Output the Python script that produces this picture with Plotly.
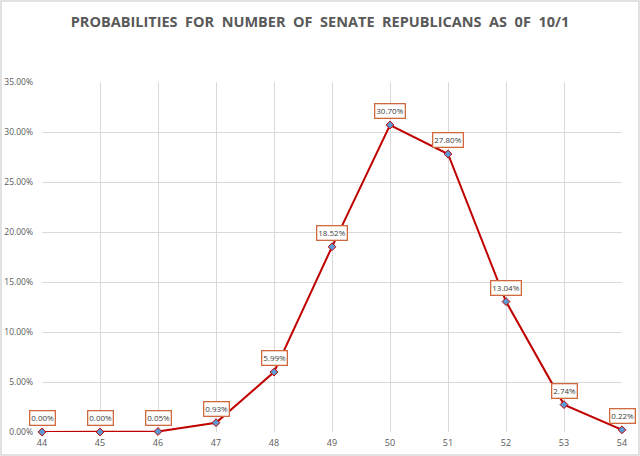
import plotly.graph_objects as go

seats = [44, 45, 46, 47, 48, 49, 50, 51, 52, 53, 54]
probs = [0.0000, 0.0000, 0.0005, 0.0093, 0.0599, 0.1852, 0.3070, 0.2780, 0.1304, 0.0274, 0.0022]
labels = ["0.00%", "0.00%", "0.05%", "0.93%", "5.99%", "18.52%", "30.70%", "27.80%", "13.04%", "2.74%", "0.22%"]
y_ticks = [0, 0.05, 0.10, 0.15, 0.20, 0.25, 0.30, 0.35]
title = "PROBABILITIES  FOR  NUMBER  OF  SENATE  REPUBLICANS  AS  0F  10/1"

fig = go.Figure()
fig.add_trace(go.Scatter(
    x=seats, y=probs, mode="lines+markers",
    line=dict(color="#c00000", width=2),
    marker=dict(symbol="diamond", size=6, color="#5b9bd5",
                line=dict(color="#c00000", width=1)),
    hoverinfo="skip", showlegend=False, cliponaxis=False,
))

for xv, yv, t in zip(seats, probs, labels):
    fig.add_annotation(
        x=xv, y=yv, text=t, showarrow=False, yshift=14,
        font=dict(family="Open Sans", size=8, color="#404040"),
        bgcolor="white", bordercolor="#cf6a3e", borderwidth=1.3, borderpad=1,
    )

# outer chart border
fig.add_shape(type="rect", xref="paper", yref="paper",
              x0=(1 - 42) / 580, x1=(639 - 42) / 580,
              y0=(432 - 455) / 350, y1=(432 - 1) / 350,
              line=dict(color="#d9d9d9", width=1.5), fillcolor="rgba(0,0,0,0)", layer="below")

fig.update_layout(
    width=640, height=456,
    margin=dict(l=42, r=18, t=82, b=24, autoexpand=False),
    paper_bgcolor="white", plot_bgcolor="white",
    title=dict(text=title, x=0.5, xref="container", xanchor="center", y=1 - 22 / 456, yanchor="middle",
               font=dict(family="Open Sans", size=14.5, color="#595959", weight="bold")),
    xaxis=dict(range=[44, 54], tickvals=seats, ticktext=[str(s) for s in seats],
               showgrid=True, gridcolor="#d9d9d9", gridwidth=1, zeroline=False,
               showline=False, ticks="", automargin=False, ticklabelstandoff=4,
               tickfont=dict(family="Open Sans", size=9, color="#595959"),
               fixedrange=True),
    yaxis=dict(range=[0, 0.35], tickvals=y_ticks, tickformat=".2%",
               showgrid=True, gridcolor="#d9d9d9", gridwidth=1, zeroline=False,
               showline=False, ticks="", ticklabelstandoff=8, automargin=False,
               tickfont=dict(family="Open Sans", size=8.5, color="#595959"),
               fixedrange=True),
)

fig.write_html("out.html", config={"displayModeBar": False},
               post_script="document.body.style.margin='0';document.body.style.padding='0';")
